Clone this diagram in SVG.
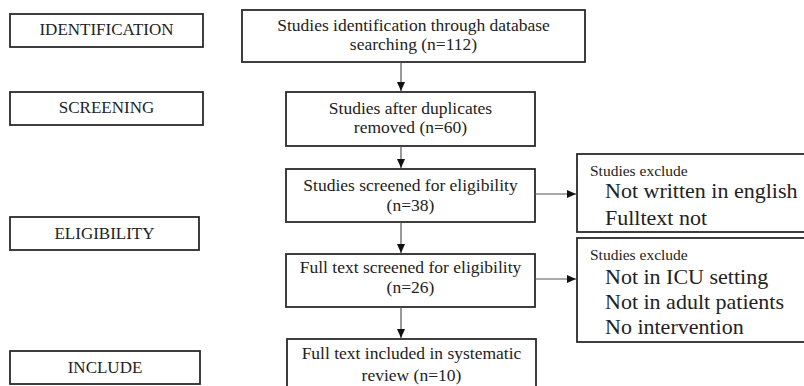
<svg xmlns="http://www.w3.org/2000/svg" width="804" height="386" viewBox="0 0 804 386">
<style>
.box{fill:#fff;stroke:#2a2a2a;stroke-width:1.8}
.t{font-family:"Liberation Serif","Times New Roman",serif;fill:#222}
.lab{font-size:17px;text-anchor:middle}
.ctr{font-size:17.5px;text-anchor:middle}
.sm{font-size:15.5px}
.lg{font-size:22px}
.con{stroke:#555;stroke-width:1.2;fill:none}
</style>
<defs>
<marker id="ah" markerWidth="10" markerHeight="10" refX="9" refY="5" orient="auto" markerUnits="userSpaceOnUse">
<path d="M0,1 L9,5 L0,9 Z" fill="#111"/>
</marker>
</defs>
<rect width="804" height="386" fill="#fff"/>
<g id="stage-identification"><rect class="box" x="10" y="14" width="193" height="33"/><text class="t lab" x="106.5" y="35">IDENTIFICATION</text></g>
<g id="stage-screening"><rect class="box" x="10" y="92" width="193" height="33"/><text class="t lab" x="106.5" y="113">SCREENING</text></g>
<g id="stage-eligibility"><rect class="box" x="10" y="217" width="189" height="33"/><text class="t lab" x="104.5" y="239">ELIGIBILITY</text></g>
<g id="stage-include"><rect class="box" x="10" y="351" width="190" height="33"/><text class="t lab" x="105" y="373">INCLUDE</text></g>
<g id="n1"><rect class="box" x="242" y="10" width="343" height="52"/><text class="t ctr" x="413.5" y="31">Studies identification through database</text><text class="t ctr" x="413.5" y="50">searching (n=112)</text></g>
<g id="n2"><rect class="box" x="286" y="92" width="249" height="54"/><text class="t ctr" x="410.5" y="114">Studies after duplicates</text><text class="t ctr" x="410.5" y="133">removed (n=60)</text></g>
<g id="n3"><rect class="box" x="286" y="169" width="249" height="53"/><text class="t ctr" x="410.5" y="191">Studies screened for eligibility</text><text class="t ctr" x="410.5" y="211">(n=38)</text></g>
<g id="n4"><rect class="box" x="286" y="254" width="249" height="53"/><text class="t ctr" x="410.5" y="273">Full text screened for eligibility</text><text class="t ctr" x="410.5" y="293">(n=26)</text></g>
<g id="n5"><rect class="box" x="287" y="339" width="249" height="60"/><text class="t ctr" x="411.5" y="359">Full text included in systematic</text><text class="t ctr" x="411.5" y="381">review (n=10)</text></g>
<g id="x1"><rect class="box" x="577" y="154" width="240" height="78"/><text class="t sm" x="590" y="176">Studies exclude</text><text class="t lg" x="605" y="198">Not written in english</text><text class="t lg" x="605" y="225">Fulltext not</text></g>
<g id="x2"><rect class="box" x="577" y="238" width="240" height="104"/><text class="t sm" x="590" y="260">Studies exclude</text><text class="t lg" x="605" y="284">Not in ICU setting</text><text class="t lg" x="605" y="309">Not in adult patients</text><text class="t lg" x="605" y="334">No intervention</text></g>
<g id="connectors">
<line class="con" x1="401" y1="62" x2="401" y2="91" marker-end="url(#ah)"/>
<line class="con" x1="401" y1="146" x2="401" y2="168" marker-end="url(#ah)"/>
<line class="con" x1="401" y1="222" x2="401" y2="253" marker-end="url(#ah)"/>
<line class="con" x1="401" y1="307" x2="401" y2="338" marker-end="url(#ah)"/>
<line class="con" x1="535" y1="194" x2="576" y2="194" marker-end="url(#ah)"/>
<line class="con" x1="535" y1="279" x2="576" y2="279" marker-end="url(#ah)"/>
</g>
</svg>
